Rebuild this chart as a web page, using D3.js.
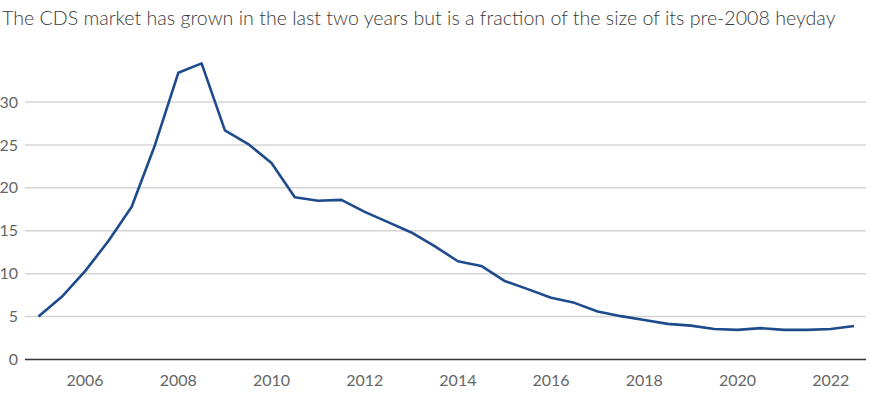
<!DOCTYPE html>
<html>
<head>
<meta charset="utf-8">
<script src="https://d3js.org/d3.v7.min.js"></script>
<style>
    body { margin: 0; background: #fff; }
    text { font-family: Lato, "Open Sans", sans-serif; }
    .grid line { stroke: #d4d4d4; stroke-width: 1.5; }
    .tick-label { fill: #666; font-size: 16px; }
</style>
</head>
<body>
<div id="main"></div>
<script>
var cfg = {
    width: 870,
    height: 400,
};

var title = "The CDS market has grown in the last two years but is a fraction of the size of its pre-2008 heyday";

// half-yearly observations, trillions
var years = [
    2005, 2005.5, 2006, 2006.5, 2007, 2007.5, 2008, 2008.5, 2009, 2009.5,
    2010, 2010.5, 2011, 2011.5, 2012, 2012.5, 2013, 2013.5, 2014, 2014.5,
    2015, 2015.5, 2016, 2016.5, 2017, 2017.5, 2018, 2018.5, 2019, 2019.5,
    2020, 2020.5, 2021, 2021.5, 2022, 2022.5,
];
var values = [
    5.0, 7.3, 10.3, 13.8, 17.8, 25.0, 33.4, 34.5, 26.7, 25.1,
    22.9, 18.9, 18.5, 18.6, 17.2, 16.0, 14.8, 13.2, 11.45, 10.9,
    9.15, 8.2, 7.2, 6.6, 5.6, 5.05, 4.6, 4.15, 3.95, 3.55,
    3.45, 3.65, 3.45, 3.45, 3.55, 3.9,
];
var yTicks = [0, 5, 10, 15, 20, 25, 30];
var xTicks = [2006, 2008, 2010, 2012, 2014, 2016, 2018, 2020, 2022];

var x = d3.scaleLinear().domain([2005, 2022.5]).range([38.5, 854]);
var y = d3.scaleLinear().domain([0, 30]).range([359.5, 102]);

var svg = d3
    .select("#main")
    .append("svg")
    .attr("width", cfg.width)
    .attr("height", cfg.height);

svg.append("text")
    .attr("x", 2)
    .attr("y", 25)
    .attr("fill", "#3a3a3a")
    .style("font-size", "19.6px")
    .style("font-weight", 300)
    .text(title);

// horizontal gridlines
svg.append("g")
    .attr("class", "grid")
    .selectAll("line")
    .data(yTicks.filter(function (d) { return d > 0; }))
    .enter()
    .append("line")
    .attr("x1", 25)
    .attr("x2", 866)
    .attr("y1", function (d) { return y(d); })
    .attr("y2", function (d) { return y(d); });

// baseline
svg.append("line")
    .attr("x1", 25)
    .attr("x2", 866)
    .attr("y1", y(0))
    .attr("y2", y(0))
    .attr("stroke", "#333")
    .attr("stroke-width", 1.5);

svg.selectAll(".ylab")
    .data(yTicks)
    .enter()
    .append("text")
    .attr("class", "tick-label")
    .attr("x", 18)
    .attr("y", function (d) { return y(d); })
    .attr("dy", "0.35em")
    .attr("text-anchor", "end")
    .text(function (d) { return d; });

svg.selectAll(".xlab")
    .data(xTicks)
    .enter()
    .append("text")
    .attr("class", "tick-label")
    .attr("x", function (d) { return x(d); })
    .attr("y", 386)
    .attr("text-anchor", "middle")
    .text(function (d) { return d; });

var line = d3
    .line()
    .x(function (d, i) { return x(years[i]); })
    .y(function (d) { return y(d); });

svg.append("path")
    .datum(values)
    .attr("d", line)
    .attr("fill", "none")
    .attr("stroke", "#1d4b8b")
    .attr("stroke-width", 2.6)
    .attr("stroke-linejoin", "round");
</script>
</body>
</html>
